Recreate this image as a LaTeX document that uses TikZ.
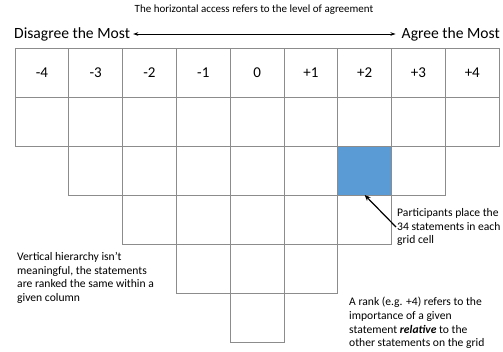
\documentclass[tikz,border=0pt]{standalone}
\usepackage{fontspec}
\setmainfont{Carlito}
\usepackage{tikz}
\usetikzlibrary{arrows.meta,positioning}
\definecolor{cellblue}{RGB}{91,155,213}
\definecolor{gridgray}{RGB}{140,140,140}
\tikzset{
  cell/.style={draw=gridgray,line width=0.8pt,minimum width=53.8pt,minimum height=49pt,inner sep=0pt,outer sep=0pt,fill=#1,font=\fontsize{15}{18}\selectfont},
  cell/.default={white},
  note/.style={align=left,inner sep=1pt,anchor=west,font=\fontsize{11.6}{13.8}\selectfont},
  side/.style={inner sep=1pt,font=\fontsize{15.6}{18}\selectfont},
  arr/.style={-{Stealth[length=6pt,width=5pt]},line width=1.2pt},
  dbl/.style={{Stealth[length=5pt,width=3.5pt]}-{Stealth[length=5pt,width=3.5pt]},line width=0.8pt},
}

\begin{document}
\begin{tikzpicture}[x=1pt,y=-1pt]
 \useasboundingbox (0,0) rectangle (503,351);
 \node[font=\fontsize{11}{13}\selectfont] (ttl) at (254,10) {The horizontal access refers to the level of agreement};
 \node[side,anchor=west] (dis) at (13,34) {Disagree the Most};
 \node[side,anchor=east] (agr) at (501,34) {Agree the Most};
 \draw[dbl,shorten <=2pt,shorten >=5pt] (dis.east) -- (agr.west);
 % header row and the pyramid of cells below it
 \foreach \lab [count=\c from 0] in {-4,-3,-2,-1,0,+1,+2,+3,+4}
   \node[cell] (h\c) at (41.9+53.8*\c,72.5) {\lab};
 \foreach \r in {1,...,5}{
   \pgfmathtruncatemacro{\a}{\r-1}
   \pgfmathtruncatemacro{\b}{9-\r}
   \foreach \c in {\a,...,\b}
     \node[cell] (c\r-\c) at (41.9+53.8*\c,72.5+49*\r) {};
 }
 \node[cell=cellblue] (pick) at (c2-6) {};
 \node[note] (place) at (396,227) {Participants place the\\34 statements in each\\grid cell};
 \draw[arr] (place.west) -- (pick.south);
 \node[note] (vert) at (16,278) {Vertical hierarchy isn’t\\meaningful, the statements\\are ranked the same within a\\given column};
 \node[note] (rank) at (348,323) {A rank (e.g. +4) refers to the\\importance of a given\\statement \textbf{\textit{relative}} to the\\other statements on the grid};
\end{tikzpicture}
\end{document}
